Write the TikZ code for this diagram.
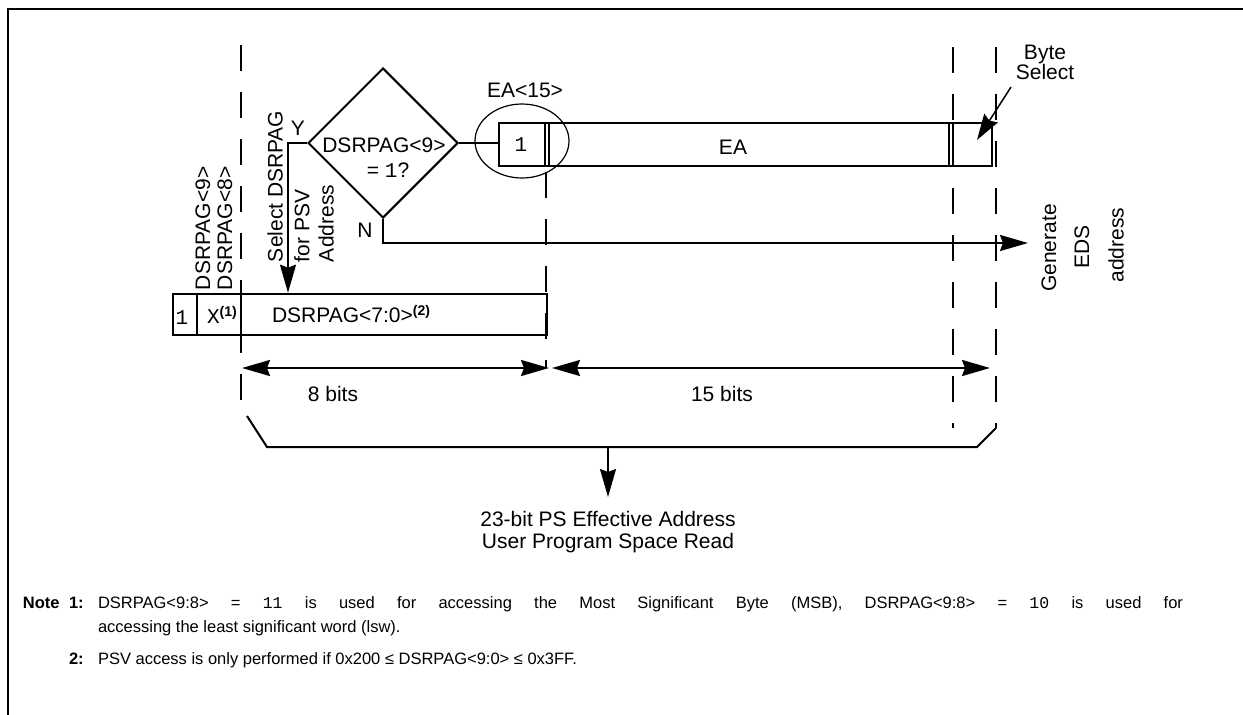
\documentclass[tikz,border=0pt]{standalone}
\usepackage{fontspec}
\setmainfont{Liberation Sans}
\setmonofont{Liberation Mono}
\usetikzlibrary{arrows.meta,shapes.geometric,calc}
\newcommand{\supb}[1]{\raisebox{7pt}{\fontsize{14}{14}\selectfont\bfseries #1}}
\begin{document}
\begin{tikzpicture}[x=1pt,y=-1pt,
  line width=2pt,
  every node/.style={inner sep=0pt},
  font=\fontsize{21}{25}\selectfont,
  dashv/.style={line width=2pt, dash pattern=on 26pt off 21pt},
  arr/.style={-{Stealth[length=28pt,width=16pt,inset=3pt]}},
  dbl/.style={{Stealth[length=28pt,width=16pt,inset=3pt]}-{Stealth[length=28pt,width=16pt,inset=3pt]}},
  box/.style={draw, line width=2pt, rectangle, inner sep=0pt},
  mono/.style={font=\ttfamily\fontsize{21}{25}\selectfont},
  note/.style={font=\fontsize{16.5}{20}\selectfont, anchor=base west},
  noteb/.style={font=\fontsize{16.5}{20}\selectfont\bfseries, anchor=base west},
]
\useasboundingbox (0,0) rectangle (1243,715);
\clip (0,0) rectangle (1243,715);

% outer frame
\draw[line width=2pt] (8,730) -- (8,9) -- (1260,9);

% dashed guide lines
\coordinate (d1t) at (241,45);  \coordinate (d1b) at (241,420);
\coordinate (d2t) at (546,172); \coordinate (d2b) at (546,368);
\coordinate (d3t) at (953,47);  \coordinate (d3b) at (953,428);
\coordinate (d4t) at (996,47);  \coordinate (d4b) at (996,428);
\draw[dashv] (d1t) -- (d1b);
\draw[dashv] (d2t) -- (d2b);
\draw[dashv] (d3t) -- (d3b);
\draw[dashv] (d4t) -- (d4b);

% bracket
\coordinate (bl1) at (247,416);
\coordinate (bl2) at (267,447);
\coordinate (br2) at (977,447);
\coordinate (bmid) at (608,447);
\draw (bl1) -- (bl2) -- (br2) -- (d4b);

% EA box
\node[box, minimum width=493pt, minimum height=43pt, anchor=north west] (ea) at (498,122) {};
\draw (545,122) -- (545,165);
\draw (549,122) -- (549,165);
\draw (949,122) -- (949,165);
\draw (953,122) -- (953,165);
\node[mono] (one) at (521,145) {1};
\node (eatext) at (733,147) {EA};
\node[ellipse, draw, line width=1.2pt, minimum width=94pt, minimum height=74pt] (circ) at (522,141) {};
\node (ea15) at (525,90) {EA<15>};

% diamond
\node[diamond, draw, minimum width=150pt, minimum height=150pt, aspect=1] (dia) at (383,143) {};
\node (dq1) at (384,145) {DSRPAG<9>};
\node (dq2) at (388,170) {= {\ttfamily 1}?};
\node (ylab) at (298,128) {Y};
\node (nlab) at (365,230) {N};

% DSRPAG box
\node[box, minimum width=374pt, minimum height=41.3pt, anchor=north west] (dsr) at (172,292.7) {};
\draw (197,292.7) -- (197,334);
\draw (241,292.7) -- (241,334);
\node[mono] (b1) at (182,318) {1};
\node (bx) at (222,315) {{\ttfamily X}\supb{(1)}};
\node (b70) at (351,314) {DSRPAG<7:0>\supb{(2)}};

% rotated labels
\node[rotate=90, anchor=west] (r9) at (203,291) {DSRPAG<9>};
\node[rotate=90, anchor=west] (r8) at (225,291) {DSRPAG<8>};
\node[rotate=90, anchor=west] (s1) at (275,263) {Select DSRPAG};
\node[rotate=90, anchor=west] (s2) at (302,263) {for PSV};
\node[rotate=90, anchor=west] (s3) at (326,263) {Address};
\node[rotate=90] (g1) at (1049,248) {Generate};
\node[rotate=90] (g2) at (1082,247) {EDS};
\node[rotate=90] (g3) at (1116,245) {address};

% connectors
\coordinate (ytgt) at (288,292.7);
\draw[arr] (dia.west) -| (ytgt);
\draw (dia.east) -- (dia.east -| ea.west);
\coordinate (ntgt) at (1028,243);
\draw[arr] (dia.south) |- (ntgt);

% Byte select
\node[align=center, font=\fontsize{21}{20}\selectfont] (bs) at (1045,62) {Byte\\Select};
\coordinate (bsf) at (1011,87);
\coordinate (bst) at (977,140);
\draw[line width=1.5pt, -{Stealth[length=26pt,width=16pt,inset=3pt]}] (bsf) -- (bst);

% bit width arrows
\coordinate (a8l) at (242,368); \coordinate (a8r) at (549,368);
\coordinate (a15l) at (552,368); \coordinate (a15r) at (990,368);
\draw[dbl] (a8l) -- (a8r);
\draw[dbl] (a15l) -- (a15r);
\node (t8) at (333,394) {8 bits};
\node (t15) at (722,394) {15 bits};

% result
\node[align=center, anchor=north, font=\fontsize{21}{22}\selectfont] (res) at (608,510) {23-bit PS Effective Address\\User Program Space Read};
\coordinate (btip) at (608,497);
\draw[arr] (bmid) -- (btip);

% notes (first line justified to full width)
\node[noteb] (n1) at (22,608) {Note};
\node[noteb] (n1n) at (68,608) {1:};
\node[note] (n1t) at (97,608) {\makebox[1085pt][s]{DSRPAG<9:8> = {\ttfamily 11} is used for accessing the Most Significant Byte (MSB), DSRPAG<9:8> = {\ttfamily 10} is used for}};
\node[note] (n1u) at (97,632) {accessing the least significant word (lsw).};
\node[noteb] (n2n) at (68,664) {2:};
\node[note] (n2t) at (97,664) {PSV access is only performed if 0x200 ≤ DSRPAG<9:0> ≤ 0x3FF.};
\end{tikzpicture}
\end{document}
